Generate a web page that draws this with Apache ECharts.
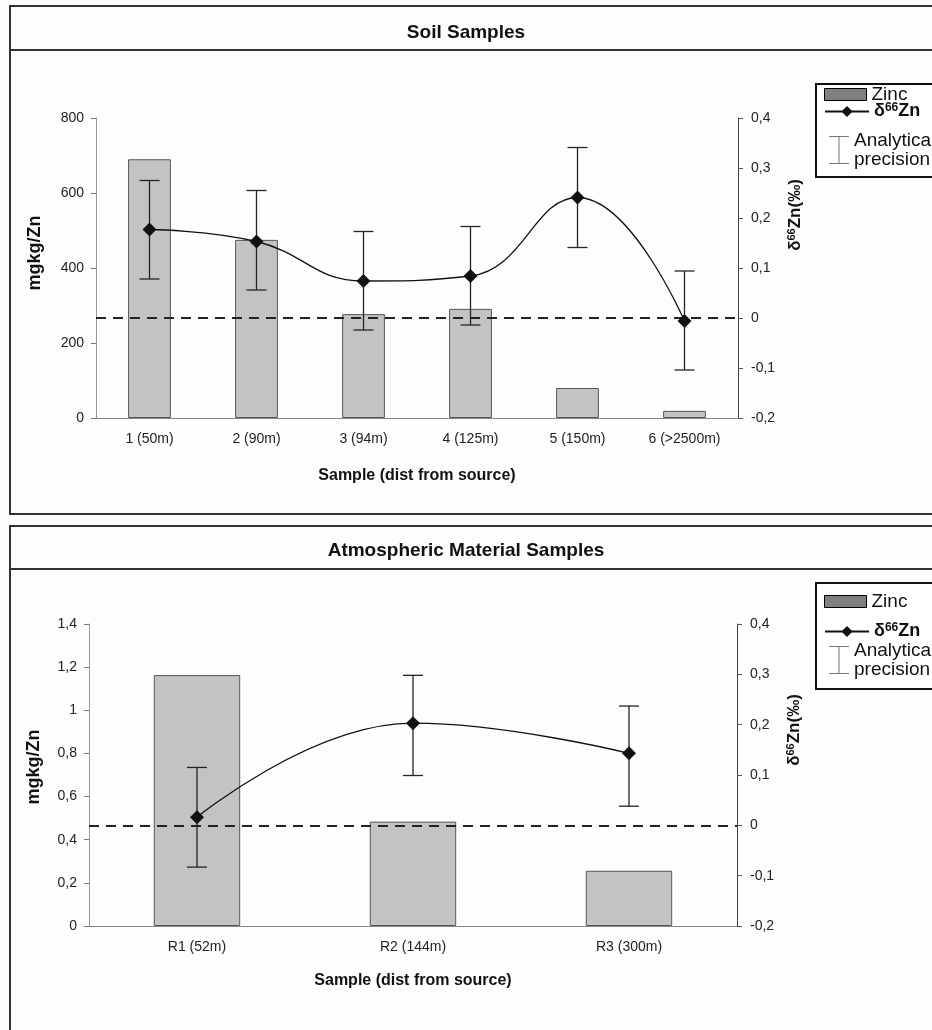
<!DOCTYPE html>
<html><head><meta charset="utf-8">
<script src="https://cdn.jsdelivr.net/npm/echarts@6/dist/echarts.min.js"></script>
<style>html,body{margin:0;padding:0;background:#fff}#c{width:932px;height:1030px}</style>
</head><body><div id="c"></div>
<script>
// ---------- data ----------
const soilCategories = ['1 (50m)', '2 (90m)', '3 (94m)', '4 (125m)', '5 (150m)', '6 (>2500m)'];
const soilZinc = [690, 475, 277, 291, 80, 19];
const soilDelta = [0.177, 0.153, 0.074, 0.084, 0.241, -0.006];
const soilErrLow = [0.078, 0.056, -0.024, -0.014, 0.141, -0.104];
const soilErrHigh = [0.275, 0.255, 0.173, 0.183, 0.341, 0.094];

const atmoCategories = ['R1 (52m)', 'R2 (144m)', 'R3 (300m)'];
const atmoZinc = [1.163, 0.484, 0.256];
const atmoDelta = [0.016, 0.203, 0.143];
const atmoErrLow = [-0.083, 0.099, 0.038];
const atmoErrHigh = [0.115, 0.298, 0.237];

const soilZincRange = [0, 800, 200];
const atmoZincRange = [0, 1.4, 0.2];
const deltaRange = [-0.2, 0.4, 0.1];
const referenceLine = 0;

const titles = ['Soil Samples', 'Atmospheric Material Samples'];
const xName = 'Sample (dist from source)';
const leftName = 'mgkg/Zn';

// ---------- helpers ----------
const FONT = '"Liberation Sans", Arial, sans-serif';
const comma = v => { const r = Math.round(v * 10) / 10; return String(r).replace('.', ','); };

function errSeries(name, idx, low, high) {
  return {
    type: 'custom', name: name, xAxisIndex: idx, yAxisIndex: idx * 2 + 1, z: 6,
    data: low.map((l, i) => [i, l, high[i]]),
    encode: { x: 0, y: [1, 2] },
    renderItem: function (params, api) {
      const x = api.value(0);
      const p1 = api.coord([x, api.value(1)]);
      const p2 = api.coord([x, api.value(2)]);
      const h = 10;
      const st = { stroke: '#2a2222', lineWidth: 1.3 };
      return { type: 'group', children: [
        { type: 'line', shape: { x1: p1[0], y1: p1[1], x2: p2[0], y2: p2[1] }, style: st },
        { type: 'line', shape: { x1: p1[0] - h, y1: p1[1], x2: p1[0] + h, y2: p1[1] }, style: st },
        { type: 'line', shape: { x1: p2[0] - h, y1: p2[1], x2: p2[0] + h, y2: p2[1] }, style: st }
      ]};
    }
  };
}

function xAxis(idx, cats, gap) {
  return {
    type: 'category', gridIndex: idx, data: cats,
    axisLine: { lineStyle: { color: '#888', width: 1 } },
    axisTick: { length: 5, lineStyle: { color: '#666' } },
    axisLabel: { fontSize: 14, color: '#222', margin: 14, fontFamily: FONT },
    name: xName, nameLocation: 'middle', nameGap: gap,
    nameTextStyle: { fontSize: 16, fontWeight: 'bold', color: '#111', fontFamily: FONT }
  };
}
function leftAxis(idx, r, gap, pad) {
  return {
    type: 'value', gridIndex: idx, min: r[0], max: r[1], interval: r[2], position: 'left',
    axisLine: { show: true, lineStyle: { color: '#999' } },
    axisTick: { show: true, length: 5, lineStyle: { color: '#777' } },
    splitLine: { show: false },
    axisLabel: { fontSize: 14, color: '#222', margin: 12, fontFamily: FONT, formatter: comma },
    name: leftName, nameLocation: 'middle', nameRotate: 90, nameGap: gap,
    nameTextStyle: { fontSize: 18, fontWeight: 'bold', color: '#111', fontFamily: FONT, padding: [0, 0, 0, pad] }
  };
}
function rightAxis(idx, gap, pad) {
  return {
    type: 'value', gridIndex: idx, min: deltaRange[0], max: deltaRange[1], interval: deltaRange[2], position: 'right',
    axisLine: { show: true, lineStyle: { color: '#444' } },
    axisTick: { show: true, length: 5, lineStyle: { color: '#555' } },
    splitLine: { show: false },
    axisLabel: { fontSize: 14, color: '#222', margin: 13, fontFamily: FONT, formatter: comma },
    name: '{b|δ}{s|66}{b|Zn(‰)}', nameLocation: 'middle', nameRotate: 90, nameGap: gap,
    nameTextStyle: { fontFamily: FONT, padding: [0, 0, 0, pad],
      rich: { b: { fontSize: 17, fontWeight: 'bold', color: '#111', fontFamily: FONT },
              s: { fontSize: 11, fontWeight: 'bold', color: '#111', verticalAlign: 'top', padding: [0, 0, 7, 0], fontFamily: FONT } } }
  };
}
function zincSeries(idx, data) {
  return { type: 'bar', name: 'Zinc', xAxisIndex: idx, yAxisIndex: idx * 2, data: data, barWidth: '40%', z: 2,
    itemStyle: { color: '#c3c3c3', borderColor: '#555', borderWidth: 1 } };
}
function deltaSeries(idx, data) {
  return { type: 'line', name: 'd66Zn', xAxisIndex: idx, yAxisIndex: idx * 2 + 1, data: data, smooth: 0.45, z: 7,
    symbol: 'diamond', symbolSize: 14, lineStyle: { color: '#111', width: 1.3 }, itemStyle: { color: '#111' },
    markLine: { silent: true, symbol: 'none', label: { show: false },
      lineStyle: { color: '#222', width: 2.2, type: [10, 7] }, data: [{ yAxis: referenceLine }] } };
}

const legendText = { fontSize: 19, color: '#111', fontFamily: FONT,
  rich: { b: { fontSize: 18, fontWeight: 'bold', color: '#111', fontFamily: FONT },
          s: { fontSize: 12, fontWeight: 'bold', color: '#111', verticalAlign: 'top', padding: [0, 0, 7, 0], fontFamily: FONT } } };
function legends(zTop, dTop, aTop) {
  return [
    { orient: 'vertical', left: 824, top: zTop, padding: 0, selectedMode: false, itemWidth: 42, itemHeight: 12,
      textStyle: legendText,
      data: [{ name: 'Zinc', icon: 'rect', itemStyle: { color: '#808080', borderColor: '#000', borderWidth: 1 } }] },
    { orient: 'vertical', left: 824, top: dTop, padding: 0, selectedMode: false, itemWidth: 44, itemHeight: 14,
      textStyle: legendText, formatter: () => '{b|δ}{s|66}{b|Zn}',
      data: [{ name: 'd66Zn' }] },
    { orient: 'vertical', left: 829, top: aTop, padding: 0, selectedMode: false, itemWidth: 20, itemHeight: 28,
      textStyle: Object.assign({}, legendText, { lineHeight: 19 }), formatter: () => 'Analytical\nprecision',
      data: [{ name: 'Analytical precision',
        icon: 'path://M0,0h20v1h-9.5v26h9.5v1h-20v-1h9.5v-26h-9.5z', itemStyle: { color: '#777' } }] }
  ];
}

const chart = echarts.init(document.getElementById('c'), null, { renderer: 'canvas' });
chart.setOption({
  backgroundColor: '#fdfdfd',
  animation: false,
  title: [
    { text: titles[0], left: 'center', top: 18, textStyle: { fontSize: 19, fontWeight: 'bold', color: '#111', fontFamily: FONT } },
    { text: titles[1], left: 'center', top: 536, textStyle: { fontSize: 19, fontWeight: 'bold', color: '#111', fontFamily: FONT } }
  ],
  graphic: [
    { type: 'rect', z: 0, shape: { x: 10, y: 6, width: 940, height: 508 }, style: { fill: 'none', stroke: '#333', lineWidth: 2 } },
    { type: 'line', z: 0, shape: { x1: 10, y1: 50, x2: 950, y2: 50 }, style: { stroke: '#333', lineWidth: 2 } },
    { type: 'rect', z: 0, shape: { x: 10, y: 526, width: 940, height: 530 }, style: { fill: 'none', stroke: '#333', lineWidth: 2 } },
    { type: 'line', z: 0, shape: { x1: 10, y1: 569, x2: 950, y2: 569 }, style: { stroke: '#333', lineWidth: 2 } },
    { type: 'rect', z: 0, shape: { x: 816, y: 84, width: 130, height: 93 }, style: { fill: '#fff', stroke: '#111', lineWidth: 2 } },
    { type: 'rect', z: 0, shape: { x: 816, y: 583, width: 130, height: 106 }, style: { fill: '#fff', stroke: '#111', lineWidth: 2 } }
  ],
  legend: legends(85, 102, 131).concat(legends(592, 622, 641)),
  grid: [
    { left: 96, right: 194, top: 118, height: 300 },
    { left: 89, right: 195, top: 624, height: 302 }
  ],
  xAxis: [xAxis(0, soilCategories, 50), xAxis(1, atmoCategories, 47)],
  yAxis: [leftAxis(0, soilZincRange, 52, 30), rightAxis(0, 48, 106),
          leftAxis(1, atmoZincRange, 46, 16), rightAxis(1, 48, 90)],
  series: [
    zincSeries(0, soilZinc), deltaSeries(0, soilDelta), errSeries('Analytical precision', 0, soilErrLow, soilErrHigh),
    zincSeries(1, atmoZinc), deltaSeries(1, atmoDelta), errSeries('Analytical precision', 1, atmoErrLow, atmoErrHigh)
  ]
});
</script></body></html>
